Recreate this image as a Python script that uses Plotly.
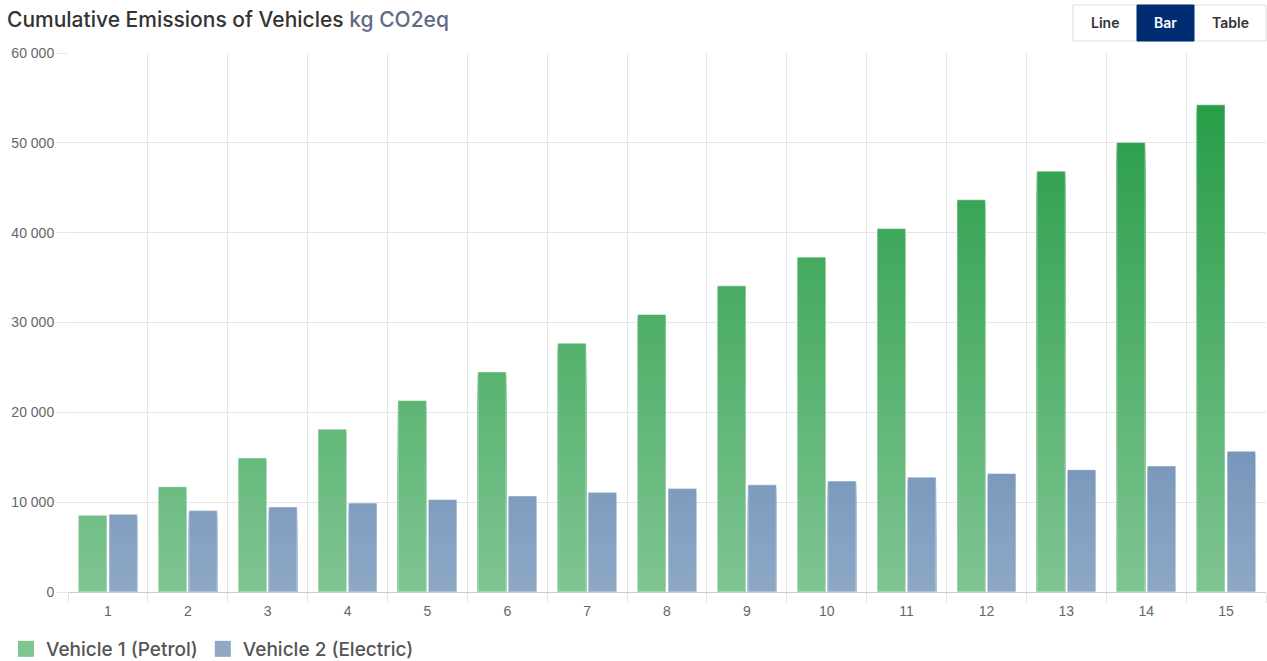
import plotly.graph_objects as go

years = list(range(1, 16))
petrol = [8540, 11730, 14920, 18120, 21310, 24500, 27700, 30890, 34080, 37270, 40460, 43660, 46850, 50040, 54230]
electric = [8650, 9060, 9470, 9900, 10290, 10700, 11100, 11510, 11930, 12350, 12770, 13200, 13620, 14030, 15670]
series_names = ["Vehicle 1 (Petrol)", "Vehicle 2 (Electric)"]
y_ticks = [0, 10000, 20000, 30000, 40000, 50000, 60000]

W_FIG, H_FIG = 1267, 661
L, R, T, B = 68, 1266, 53, 592
PW, PH = R - L, B - T
YMAX = 60000
STEP = 250

GREEN = (31, 153, 64)
BLUE = (57, 102, 155)


def px(x):
    return (x - L) / PW


def py(y):
    return (B - y) / PH


def shade(c, v):
    a = 0.57 + 0.43 * min(v, YMAX) / YMAX
    r, g, b = (round(255 - a * (255 - ch)) for ch in c)
    return f"rgb({r},{g},{b})"


def gradient_stack(values, col):
    # each bar is drawn as nested rectangles from 0, tallest first, so the
    # colour changes with height without seams between bands
    xs, hs, cols = [], [], []
    for x, v in zip(years, values):
        n = int(-(-v // STEP))
        for k in range(n - 1, -1, -1):
            top = min(v, (k + 1) * STEP)
            xs.append(x)
            hs.append(top)
            cols.append(shade(col, k * STEP + STEP / 2))
    return xs, hs, cols


fig = go.Figure()
for name, vals, col, grp in [(series_names[0], petrol, GREEN, "g"), (series_names[1], electric, BLUE, "b")]:
    xs, hs, cols = gradient_stack(vals, col)
    fig.add_trace(go.Bar(x=xs, y=hs, base=[0] * len(hs), offsetgroup=grp, showlegend=False,
                         marker=dict(color=cols, line=dict(width=0)), hoverinfo="skip"))
    fig.add_trace(go.Bar(x=years, y=vals, base=[0] * len(vals), offsetgroup=grp, showlegend=False, name=name,
                         marker=dict(color="rgba(0,0,0,0)", line=dict(color="rgba(255,255,255,0.5)", width=1)),
                         hovertemplate="%{y}<extra>" + name + "</extra>"))

for name, c in [(series_names[0], "#7dc690"), (series_names[1], "#8ea8c6")]:
    fig.add_trace(go.Scatter(x=[None], y=[None], mode="markers", name=name,
                             marker=dict(symbol="square", size=19, color=c)))

tick_font = dict(family="Liberation Sans, Arial, sans-serif", size=14, color="#666666")
grid = "#e6e6e6"

fig.update_layout(
    width=W_FIG, height=H_FIG,
    margin=dict(l=L, r=W_FIG - R, t=T, b=H_FIG - B, pad=0, autoexpand=False),
    paper_bgcolor="white", plot_bgcolor="white",
    barmode="group", bargap=0.236, bargroupgap=0.07,
    separators=". ",
    font=dict(family="Inter, sans-serif"),
    title=dict(
        text="<span style='color:#333333'>Cumulative Emissions of Vehicles</span> <span style='color:#5f6b84'>kg CO2eq</span>",
        font=dict(family="Inter, sans-serif", size=21, weight=500),
        xref="container", yref="container", x=7 / W_FIG, xanchor="left", y=1 - 20 / H_FIG, yanchor="middle"),
    xaxis=dict(range=[0.5, 15.5], tickvals=years, ticktext=[str(y) for y in years],
               showgrid=False, ticks="", tickfont=tick_font, showline=True, linecolor="#cccccc", linewidth=1,
               zeroline=False, fixedrange=True, ticklabelstandoff=6,
               minor=dict(tickvals=[y - 0.5 for y in years] + [15.5], showgrid=True, gridcolor=grid, gridwidth=1,
                          ticks="outside", ticklen=10, tickcolor=grid)),
    yaxis=dict(range=[0, YMAX], tickvals=y_ticks, tickformat=",d", showgrid=True, gridcolor=grid, gridwidth=1,
               ticks="outside", ticklen=10, tickcolor=grid, tickfont=tick_font, zeroline=False, showline=False,
               fixedrange=True),
    legend=dict(orientation="h", x=px(6), xanchor="left", y=py(649), yanchor="middle",
                font=dict(family="Inter, sans-serif", size=19, color="#555555", weight=500), itemsizing="trace",
                bgcolor="rgba(0,0,0,0)"),
    hovermode="closest",
)

# Toggle buttons (Line / Bar / Table)
btn_y0, btn_y1 = 5, 41
fig.add_shape(type="rect", xref="paper", yref="paper", x0=px(1073), x1=px(1266), y0=py(btn_y1), y1=py(btn_y0),
              line=dict(color="#dddddd", width=1), fillcolor="white", layer="above")
fig.add_shape(type="rect", xref="paper", yref="paper", x0=px(1137), x1=px(1194), y0=py(btn_y1), y1=py(btn_y0),
              line=dict(color="#002d72", width=1), fillcolor="#002d72", layer="above")
for label, cx, col in [("Line", 1105, "#333333"), ("Bar", 1165.5, "white"), ("Table", 1230, "#333333")]:
    fig.add_annotation(text=label, xref="paper", yref="paper", x=px(cx), y=py(23), showarrow=False,
                       xanchor="center", yanchor="middle",
                       font=dict(family="Inter, sans-serif", size=14, color=col, weight=600))

fig.write_html("out.html", config={"displayModeBar": False})
